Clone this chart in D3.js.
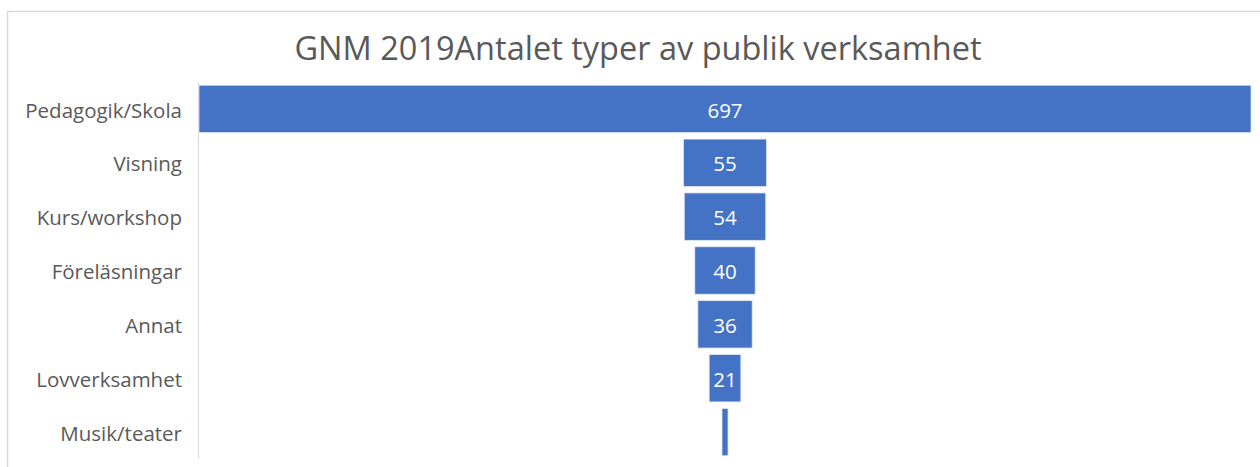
<!DOCTYPE html>
<html><head><meta charset="utf-8">
<script src="https://cdn.jsdelivr.net/npm/d3@7"></script>
<style>html,body{margin:0;padding:0;background:#fff;}svg{display:block;}</style>
</head><body>
<svg id="chart" width="1260" height="467"></svg>
<script>
const title = "GNM 2019Antalet typer av publik verksamhet";
const categories = ["Pedagogik/Skola","Visning","Kurs/workshop","Föreläsningar","Annat","Lovverksamhet","Musik/teater"];
const values = [697, 55, 54, 40, 36, 21, 4];
const labels = ["697","55","54","40","36","21",""];

const svg = d3.select("#chart");
const font = "'Open Sans', sans-serif";

svg.append("rect").attr("x",7.5).attr("y",11.5).attr("width",1270).attr("height",480)
  .attr("fill","#fff").attr("stroke","#d9d9d9").attr("stroke-width",1.5);

svg.append("text").attr("x",638).attr("y",60).attr("text-anchor","middle")
  .attr("font-family",font).attr("font-size",32.5).attr("fill","#595959").text(title);

const y = d3.scaleBand().domain(categories).range([82,459]).paddingInner(0.12).paddingOuter(0.06);
const w = d3.scaleLinear().domain([0,697]).range([0,1052]);
const cx = 725;

svg.append("line").attr("x1",198.5).attr("x2",198.5).attr("y1",82).attr("y2",459)
  .attr("stroke","#d9d9d9").attr("stroke-width",1);

const data = categories.map((c,i)=>({c, v: values[i], l: labels[i]}));

svg.selectAll("rect.bar").data(data).enter().append("rect").attr("class","bar")
  .attr("x", d=>cx - w(d.v)/2).attr("y", d=>y(d.c))
  .attr("width", d=>w(d.v)).attr("height", y.bandwidth())
  .attr("fill","#4472c4").attr("stroke","#dfe7f5").attr("stroke-width",0.8);

svg.selectAll("text.cat").data(data).enter().append("text").attr("class","cat")
  .attr("x",182).attr("y", d=>y(d.c)+y.bandwidth()/2).attr("dy","0.42em")
  .attr("text-anchor","end").attr("font-family",font).attr("font-size",20.5).attr("fill","#595959")
  .text(d=>d.c);

svg.selectAll("text.val").data(data).enter().append("text").attr("class","val")
  .attr("x",cx).attr("y", d=>y(d.c)+y.bandwidth()/2).attr("dy","0.42em")
  .attr("text-anchor","middle").attr("font-family",font).attr("font-size",20.5).attr("fill","#fff")
  .text(d=>d.l);
</script>
</body></html>
